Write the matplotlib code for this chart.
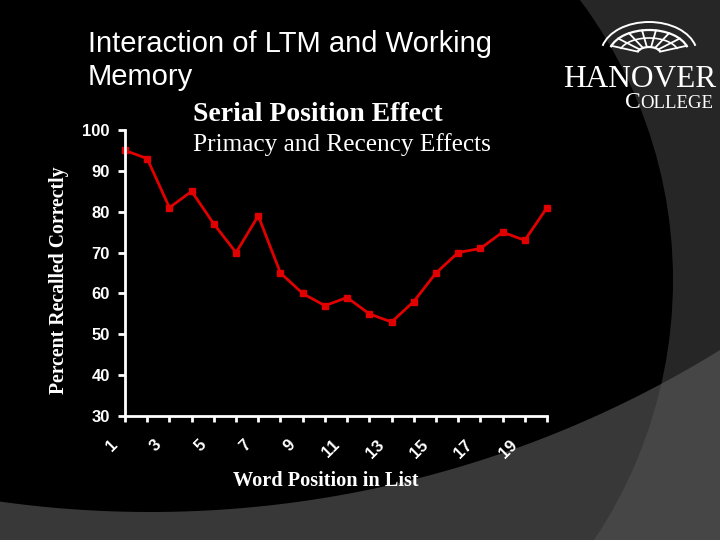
import numpy as np
import matplotlib
matplotlib.use('Agg')
from matplotlib import pyplot as plt
from matplotlib.patches import Circle, Arc, Polygon
from matplotlib.transforms import ScaledTranslation

# data
positions = list(range(1, 21))
recalled = [95, 93, 81, 85, 77, 70, 79, 65, 60, 57, 59, 55, 53, 58, 65, 70, 71, 75, 73, 81]
tick_labels = [str(p) if p % 2 == 1 else '' for p in positions]

W, H = 720, 540
fig = plt.figure(figsize=(7.2, 5.4), dpi=100, facecolor='#262626')

# slide background, drawn in pixel coordinates
bg = fig.add_axes([0, 0, 1, 1], zorder=0)
bg.set_xlim(0, W)
bg.set_ylim(H, 0)
bg.axis('off')
bg.add_patch(Circle((205, 280), 468, color='black', lw=0))
xs = np.linspace(0, W, 200)
ys = -572 + np.sqrt(1084 ** 2 - (xs - 150) ** 2)
band = np.vstack([np.column_stack([xs, ys]), [[W, H], [0, H]]])
bg.add_patch(Polygon(band, closed=True, color='#5a5a5a', alpha=0.63, lw=0))

# titles
sans = 'Liberation Sans'
serif = 'Liberation Serif'
bg.text(88, 52, 'Interaction of LTM and Working', color='white', fontsize=21,
        family=sans, va='baseline', ha='left')
bg.text(88, 85, 'Memory', color='white', fontsize=21, family=sans, va='baseline', ha='left')
bg.text(193, 121, 'Serial Position Effect', color='white', fontsize=20, family=serif,
        weight='bold', va='baseline', ha='left')
bg.text(193, 151, 'Primacy and Recency Effects', color='white', fontsize=18.2, family=serif,
        va='baseline', ha='left')

# college logo
bg.text(563, 87, 'HANOVER', color='white', fontsize=22.6, family=serif, va='baseline', ha='left')
bg.text(625, 108, 'C', color='white', fontsize=17, family=serif, va='baseline', ha='left')
bg.text(640, 108, 'OLLEGE', color='white', fontsize=13.5, family=serif, va='baseline', ha='left')
cx, cy = 649, 54
for w, h, lw in [(96, 64, 1.4), (80, 48, 1.6), (60, 32, 1.2), (24, 14, 1.6)]:
    bg.add_patch(Arc((cx, cy), w, h, theta1=190, theta2=350, color='white', lw=lw))
for ang in np.deg2rad(np.arange(200, 341, 20)):
    bg.plot([cx + 12 * np.cos(ang), cx + 40 * np.cos(ang)],
            [cy + 7 * np.sin(ang), cy + 24 * np.sin(ang)], color='white', lw=1.3)

# chart
ax = fig.add_axes([125 / W, 1 - 416 / H, 422 / W, 286 / H], zorder=2)
ax.patch.set_alpha(0)
ax.plot(positions, recalled, color='#e00000', lw=2, marker='s', ms=5, clip_on=False)
ax.set_xlim(1, 20)
ax.set_ylim(30, 100)
ax.set_yticks(range(30, 101, 10))
ax.set_xticks(positions)
ax.set_xticklabels(tick_labels, rotation=45, ha='right', va='center', rotation_mode='anchor')
for s in ['top', 'right']:
    ax.spines[s].set_visible(False)
for s in ['left', 'bottom']:
    ax.spines[s].set_color('white')
    ax.spines[s].set_linewidth(2)
ax.tick_params(axis='y', colors='white', width=2, length=5, pad=6)
ax.tick_params(axis='x', colors='white', width=2, length=4, pad=15)
for lab in ax.get_xticklabels() + ax.get_yticklabels():
    lab.set_fontfamily(sans)
    lab.set_fontweight('bold')
    lab.set_fontsize(12)
for lab in ax.get_xticklabels():
    lab.set_transform(lab.get_transform() + ScaledTranslation(-0.10, 0, fig.dpi_scale_trans))

bg.text(59, 280, 'Percent Recalled Correctly', color='white', fontsize=14.2, family=serif,
        weight='bold', rotation=90, ha='center', va='center')
bg.text(326, 481, 'Word Position in List', color='white', fontsize=14.6, family=serif,
        weight='bold', ha='center', va='center')

fig.savefig('out.png', dpi=100, facecolor=fig.get_facecolor())
